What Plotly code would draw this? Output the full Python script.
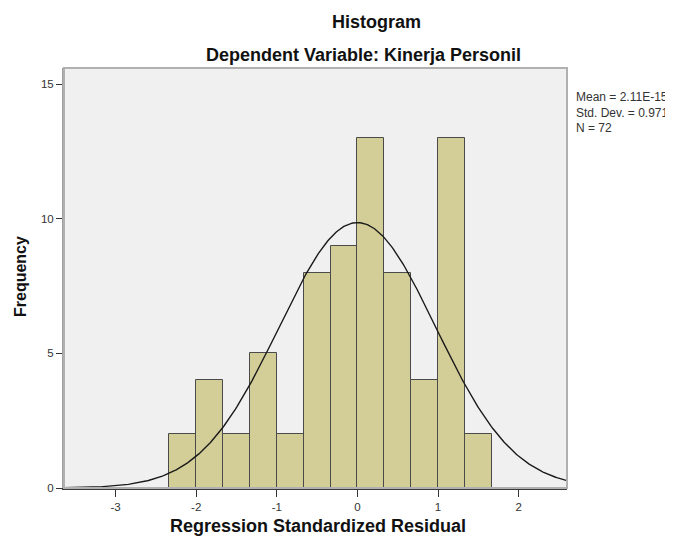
import numpy as np
import plotly.graph_objects as go

# Histogram data (bin edges at -2.333 + k/3)
bin_start = -7/3
bin_width = 1/3
counts = [2, 4, 2, 5, 2, 8, 9, 13, 8, 4, 13, 2]

mean = 2.11e-15
std = 0.971
n = 72

x_ticks = [-3, -2, -1, 0, 1, 2]
y_ticks = [0, 5, 10, 15]

centers = [bin_start + bin_width * (i + 0.5) for i in range(len(counts))]

x_range = [-3.64, 2.60]
xs = np.linspace(x_range[0], x_range[1], 400)
ys = n * bin_width * np.exp(-0.5 * ((xs - mean) / std) ** 2) / (std * np.sqrt(2 * np.pi))

font = "Liberation Sans, Arial, sans-serif"

# The page body has an 8px margin; work in screen pixels and subtract it.
OFF = 8
W, H = 673 - OFF, 537 - OFF
L, R, T, B = 64 - OFF, 567 - OFF, 68 - OFF, 488 - OFF
pw, ph = R - L, B - T

def px(x):
    return (x - OFF - L) / pw

def py(y):
    return (B - (y - OFF)) / ph

fig = go.Figure()
fig.add_trace(go.Bar(
    x=centers, y=counts, width=bin_width,
    marker=dict(color="#d3ce97", line=dict(color="#4a4a4a", width=1)),
    hoverinfo="x+y", showlegend=False,
))
fig.add_trace(go.Scatter(
    x=xs, y=ys, mode="lines",
    line=dict(color="#1a1a1a", width=1.4),
    showlegend=False, hoverinfo="skip",
))

fig.update_layout(
    width=W, height=H,
    margin=dict(l=L, r=W - R, t=T, b=H - B),
    paper_bgcolor="white",
    plot_bgcolor="#f0f0f0",
    font=dict(family=font, size=11, color="#333"),
    bargap=0,
    showlegend=False,
)

fig.update_xaxes(
    range=x_range, tickvals=x_ticks, ticktext=[str(v) for v in x_ticks],
    ticks="outside", ticklen=7, tickcolor="#333", showgrid=False, zeroline=False,
    showline=True, linecolor="#3a3a3a", linewidth=1.5,
    tickfont=dict(size=11.5, color="#333"),
)
fig.update_yaxes(
    range=[0, 15.6], tickvals=y_ticks, ticktext=[str(v) for v in y_ticks],
    ticks="outside", ticklen=6, tickcolor="#333", showgrid=False, zeroline=False,
    showline=True, linecolor="#a0a0a0", linewidth=2,
    tickfont=dict(size=11.5, color="#333"),
)

# frame around plot area
fig.add_shape(type="rect", xref="paper", yref="paper", x0=0, x1=1, y0=0, y1=1,
              line=dict(color="#b0b0b0", width=2), layer="above")

# Titles and labels
fig.add_annotation(text="<b>Histogram</b>", xref="paper", yref="paper",
                   x=px(376), y=py(22), showarrow=False,
                   font=dict(size=18, color="#111", family=font), xanchor="center", yanchor="middle")
fig.add_annotation(text="<b>Dependent Variable: Kinerja Personil</b>", xref="paper", yref="paper",
                   x=px(204), y=py(55), showarrow=False,
                   font=dict(size=18, color="#111", family=font), xanchor="left", yanchor="middle")
fig.add_annotation(text="<b>Regression Standardized Residual</b>", xref="paper", yref="paper",
                   x=px(318), y=py(526), showarrow=False,
                   font=dict(size=18, color="#111", family=font), xanchor="center", yanchor="middle")
fig.add_annotation(text="<b>Frequency</b>", xref="paper", yref="paper",
                   x=px(20), y=py(277), showarrow=False, textangle=-90,
                   font=dict(size=16, color="#111", family=font), xanchor="center", yanchor="middle")
fig.add_annotation(text=f"Mean = 2.11E-15<br>Std. Dev. = {std}<br>N = {n}", xref="paper", yref="paper",
                   x=px(574), y=py(88), showarrow=False, align="left",
                   font=dict(size=12, color="#333", family=font), xanchor="left", yanchor="top")

fig.write_html("out.html")
